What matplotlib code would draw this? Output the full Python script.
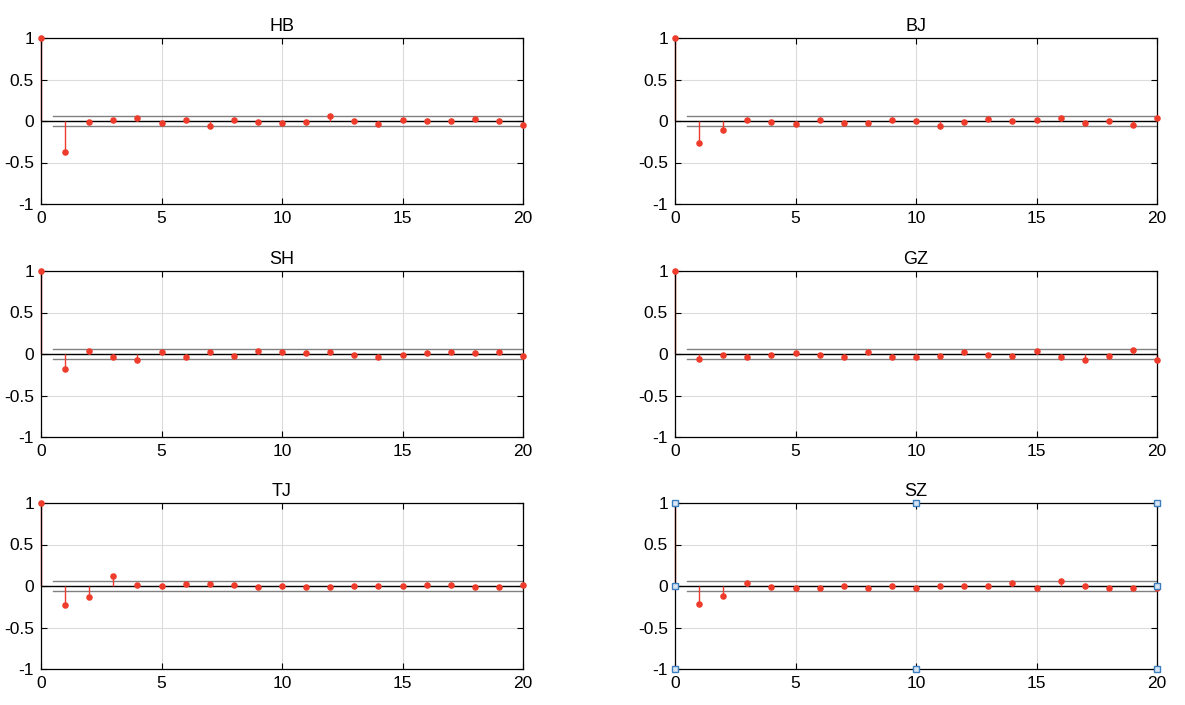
import numpy as np
import matplotlib
matplotlib.use("Agg")
import matplotlib.pyplot as plt

plt.rcParams['font.family'] = ['Liberation Sans', 'DejaVu Sans']

titles = ["HB", "BJ", "SH", "GZ", "TJ", "SZ"]
lags = np.arange(21)

acf_hb = [1, -0.378, -0.016, 0.012, 0.032, -0.028, 0.012, -0.064, 0.012, -0.016, -0.028,
          -0.016, 0.060, 0.0, -0.036, 0.012, 0.0, 0.0, 0.024, 0.0, -0.048]
acf_bj = [1, -0.270, -0.113, 0.012, -0.016, -0.036, 0.012, -0.028, -0.028, 0.012, 0.0,
          -0.064, -0.016, 0.024, 0.0, 0.012, 0.032, -0.028, 0.0, -0.048, 0.032]
acf_sh = [1, -0.178, 0.032, -0.040, -0.069, 0.020, -0.032, 0.020, -0.020, 0.032, 0.020,
          0.008, 0.020, -0.008, -0.040, -0.008, 0.008, 0.020, 0.008, 0.020, -0.020]
acf_gz = [1, -0.057, -0.008, -0.040, -0.008, 0.008, -0.008, -0.032, 0.020, -0.032, -0.032,
          -0.020, 0.020, -0.008, -0.020, 0.032, -0.040, -0.069, -0.020, 0.053, -0.069]
acf_tj = [1, -0.233, -0.133, 0.121, 0.012, 0.0, 0.024, 0.024, 0.012, -0.016, 0.0,
          -0.016, -0.016, 0.0, 0.0, 0.0, 0.012, 0.012, -0.016, -0.016, 0.012]
acf_sz = [1, -0.221, -0.125, 0.040, -0.016, -0.028, -0.028, 0.0, -0.028, 0.0, -0.028,
          0.0, 0.0, 0.0, 0.032, -0.028, 0.060, 0.0, -0.028, -0.028, -0.028]
series = [acf_hb, acf_bj, acf_sh, acf_gz, acf_tj, acf_sz]

bound = 0.062
# selection handles shown on the SZ axes
handle_x = [0, 10, 20, 0, 20, 0, 10, 20]
handle_y = [1, 1, 1, 0, 0, -1, -1, -1]

red = "#ee3b2b"

fig = plt.figure(figsize=(11.85, 7.05), dpi=100)
lefts = [41 / 1185, 675 / 1185]
bottoms = [501 / 705, 268 / 705, 36 / 705]
w = 482 / 1185
h = 166 / 705

for i, (name, acf) in enumerate(zip(titles, series)):
    ax = fig.add_axes([lefts[i % 2], bottoms[i // 2], w, h])
    ax.grid(True, color="#dcdcdc", linewidth=0.8)
    ax.set_axisbelow(True)
    ax.axhline(0, color="black", linewidth=1.0, zorder=2)
    ax.plot([0.5, 20], [bound, bound], color="#808080", linewidth=1.0, zorder=2)
    ax.plot([0.5, 20], [-bound, -bound], color="#808080", linewidth=1.0, zorder=2)
    ml, sl, bl = ax.stem(lags, acf, basefmt=" ")
    plt.setp(sl, color=red, linewidth=1.0, clip_on=False)
    plt.setp(ml, color=red, markersize=3.7, zorder=4, clip_on=False)
    if name == "SZ":
        ax.plot(handle_x, handle_y, ls="none", marker="s", markersize=4.5,
                markerfacecolor="#d8e6f3", markeredgecolor="#3b7dbd",
                markeredgewidth=1.0, clip_on=False, zorder=5)
    ax.set_xlim(0, 20)
    ax.set_ylim(-1, 1)
    ax.set_xticks([0, 5, 10, 15, 20])
    ax.set_yticks([-1, -0.5, 0, 0.5, 1])
    ax.set_yticklabels(["-1", "-0.5", "0", "0.5", "1"])
    ax.tick_params(direction="in", top=True, right=True, labelsize=12.5, length=4,
                   width=0.8, colors="black", pad=5)
    for s in ax.spines.values():
        s.set_linewidth(0.9)
        s.set_color("black")
    ax.set_title(name, fontsize=13, pad=5)

fig.savefig("out.png", dpi=100)
